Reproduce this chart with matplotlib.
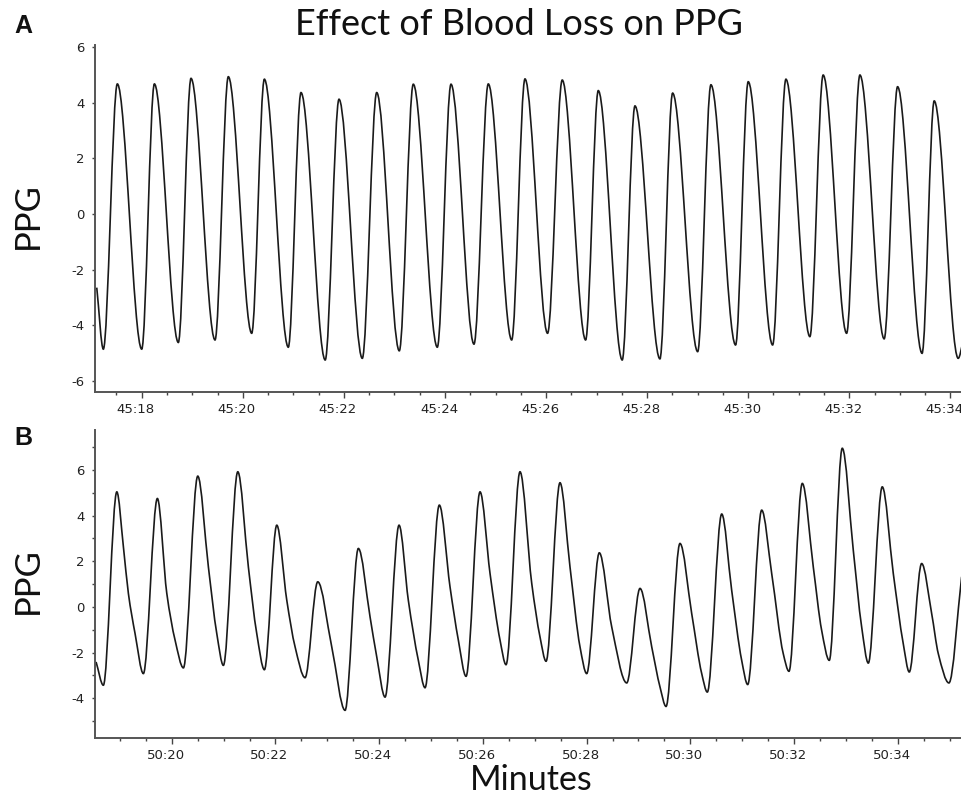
import numpy as np
import matplotlib
matplotlib.use("Agg")
import matplotlib.pyplot as plt
from matplotlib.path import Path
from matplotlib.patches import PathPatch
from matplotlib.ticker import MultipleLocator, FuncFormatter
from matplotlib.transforms import ScaledTranslation

plt.rcParams["axes.unicode_minus"] = False

# Panel A: landmarks (seconds within minute 45, PPG value)
a_time = [17.11, 17.24, 17.517, 18.0, 18.25, 18.724, 18.975, 19.45, 19.713,
          20.176, 20.426, 20.90, 21.151, 21.63, 21.903, 22.364, 22.649,
          23.096, 23.373, 23.848, 24.119, 24.574, 24.857, 25.32, 25.583,
          26.03, 26.32, 26.783, 27.033, 27.507, 27.759, 28.253, 28.504,
          29.0, 29.262, 29.75, 30.0, 30.483, 30.746, 31.22, 31.483,
          31.947, 32.21, 32.69, 32.955, 33.44, 33.68, 34.155, 34.25]
a_ppg = [-2.65, -4.86, 4.67, -4.86, 4.67, -4.62, 4.87, -4.53, 4.93,
         -4.29, 4.84, -4.79, 4.36, -5.25, 4.12, -5.19, 4.36,
         -4.92, 4.66, -4.79, 4.66, -4.68, 4.67, -4.53, 4.85,
         -4.29, 4.81, -4.53, 4.43, -5.25, 3.88, -5.21, 4.34,
         -4.95, 4.64, -4.71, 4.75, -4.71, 4.84, -4.41, 4.99,
         -4.29, 4.99, -4.49, 4.57, -5.01, 4.06, -5.19, -4.6]

# Panel B: landmarks (seconds within minute 50, PPG value)
b_time = [18.54, 18.68, 18.94, 19.067, 19.163, 19.292, 19.452, 19.722, 19.904,
          20.064, 20.224, 20.501, 20.706, 20.868, 20.995, 21.273, 21.477,
          21.639, 21.786, 22.025, 22.218, 22.378, 22.57, 22.815, 23.085,
          23.342, 23.598, 23.824, 23.953, 24.113, 24.383, 24.562, 24.755,
          24.884, 25.16, 25.366, 25.527, 25.675, 25.945, 26.138, 26.331,
          26.446, 26.716, 26.942, 27.102, 27.218, 27.487, 27.68, 27.873,
          28.002, 28.245, 28.485, 28.774, 29.03, 29.256, 29.416, 29.532,
          29.801, 30.027, 30.22, 30.328, 30.606, 30.798, 30.991, 31.107,
          31.377, 31.57, 31.793, 31.903, 32.16, 32.372, 32.533, 32.68,
          32.931, 33.143, 33.305, 33.433, 33.702, 33.915, 34.107, 34.223,
          34.462, 34.655, 34.783, 34.988, 35.233]
b_ppg = [-2.41, -3.43, 5.04, 2.63, 0.59, -1.17, -2.92, 4.75, 0.59,
         -1.46, -2.67, 5.73, 1.75, -1.17, -2.56, 5.92, 1.75,
         -1.17, -2.75, 3.58, 0.29, -1.75, -3.10, 1.10, -1.75,
         -4.53, 2.56, -0.44, -2.19, -3.95, 3.58, 0.29, -2.34,
         -3.54, 4.46, 0.88, -1.46, -3.04, 5.04, 1.46, -1.46,
         -2.53, 5.92, 1.03, -1.32, -2.38, 5.44, 1.75, -1.75,
         -2.92, 2.37, -0.88, -3.33, 0.81, -1.75, -3.51, -4.36,
         2.78, -0.29, -2.92, -3.73, 4.07, 0.73, -2.34, -3.40,
         4.24, 1.46, -2.05, -2.82, 5.41, 1.75, -1.02, -2.34,
         6.95, 2.49, -0.88, -2.46, 5.26, 1.46, -1.61, -2.85,
         1.90, -0.29, -2.05, -3.33, 1.32]

a_minute = 45
b_minute = 50
a_ticks = list(range(18, 35, 2))
b_ticks = list(range(20, 35, 2))


def trace_path(t, v):
    """Smooth trace through the landmarks (cubic Bezier, flat at peaks/troughs)."""
    t = np.asarray(t, float)
    v = np.asarray(v, float)
    h = np.diff(t)
    d = np.diff(v) / h
    m = np.zeros_like(v)
    m[0], m[-1] = d[0], d[-1]
    for i in range(1, len(v) - 1):
        if d[i - 1] * d[i] > 0:
            w1 = 2 * h[i] + h[i - 1]
            w2 = h[i] + 2 * h[i - 1]
            m[i] = (w1 + w2) / (w1 / d[i - 1] + w2 / d[i])
    verts = [(t[0], v[0])]
    codes = [Path.MOVETO]
    for i in range(len(v) - 1):
        verts += [(t[i] + h[i] / 3, v[i] + m[i] * h[i] / 3),
                  (t[i + 1] - h[i] / 3, v[i + 1] - m[i + 1] * h[i] / 3),
                  (t[i + 1], v[i + 1])]
        codes += [Path.CURVE4] * 3
    return Path(verts, codes)


def style_axis(ax, minute, ticks):
    for side in ("top", "right"):
        ax.spines[side].set_visible(False)
    for side in ("left", "bottom"):
        ax.spines[side].set_color("#555555")
        ax.spines[side].set_linewidth(1.4)
    ax.set_xticks(ticks)
    ax.xaxis.set_minor_locator(MultipleLocator(0.5))
    ax.xaxis.set_major_formatter(FuncFormatter(lambda s, p: f"{minute}:{int(round(s)):02d}"))
    ax.tick_params(axis="x", which="major", length=4, width=1, color="#444444",
                   pad=4, labelsize=9.5, labelcolor="#222222")
    ax.tick_params(axis="x", which="minor", length=2, width=1, color="#444444")
    ax.tick_params(axis="y", which="both", length=2.5, width=1, color="#444444",
                   pad=5, labelsize=9.5, labelcolor="#222222")
    # the source software draws time labels a few pixels left of their ticks
    shift = ScaledTranslation(-6 / 100, 0, ax.figure.dpi_scale_trans)
    for lbl in ax.xaxis.get_majorticklabels():
        lbl.set_transform(lbl.get_transform() + shift)


fig = plt.figure(figsize=(9.62, 7.99), dpi=100)

axA = fig.add_axes([0.0988, 0.5094, 0.9012, 0.4343])
axA.add_patch(PathPatch(trace_path(a_time, a_ppg), fill=False, ec="#1a1a1a", lw=1.2))
axA.set_xlim(17.076, 34.23)
axA.set_ylim(-6.4, 6.07)
axA.set_yticks([-6, -4, -2, 0, 2, 4, 6])
style_axis(axA, a_minute, a_ticks)

axB = fig.add_axes([0.0988, 0.0767, 0.9012, 0.3851])
axB.add_patch(PathPatch(trace_path(b_time, b_ppg), fill=False, ec="#1a1a1a", lw=1.2))
axB.set_xlim(18.52, 35.24)
axB.set_ylim(-5.73, 7.75)
axB.set_yticks([-4, -2, 0, 2, 4, 6])
axB.yaxis.set_minor_locator(MultipleLocator(1))
style_axis(axB, b_minute, b_ticks)

fig.text(0.539, 0.969, "Effect of Blood Loss on PPG", ha="center", va="center",
         family="Lato", fontsize=26, color="#111111")
fig.text(0.552, 0.024, "Minutes", ha="center", va="center",
         family="Lato", fontsize=24.5, color="#111111")
fig.text(0.029, 0.730, "PPG", rotation=90, ha="center", va="center",
         family="Lato", fontsize=25, color="#111111")
fig.text(0.029, 0.273, "PPG", rotation=90, ha="center", va="center",
         family="Lato", fontsize=25, color="#111111")
fig.text(0.024, 0.967, "A", ha="center", va="center", family="Liberation Sans",
         weight="bold", fontsize=18, color="#111111")
fig.text(0.024, 0.452, "B", ha="center", va="center", family="Liberation Sans",
         weight="bold", fontsize=18, color="#111111")

fig.savefig("out.png", dpi=100)
